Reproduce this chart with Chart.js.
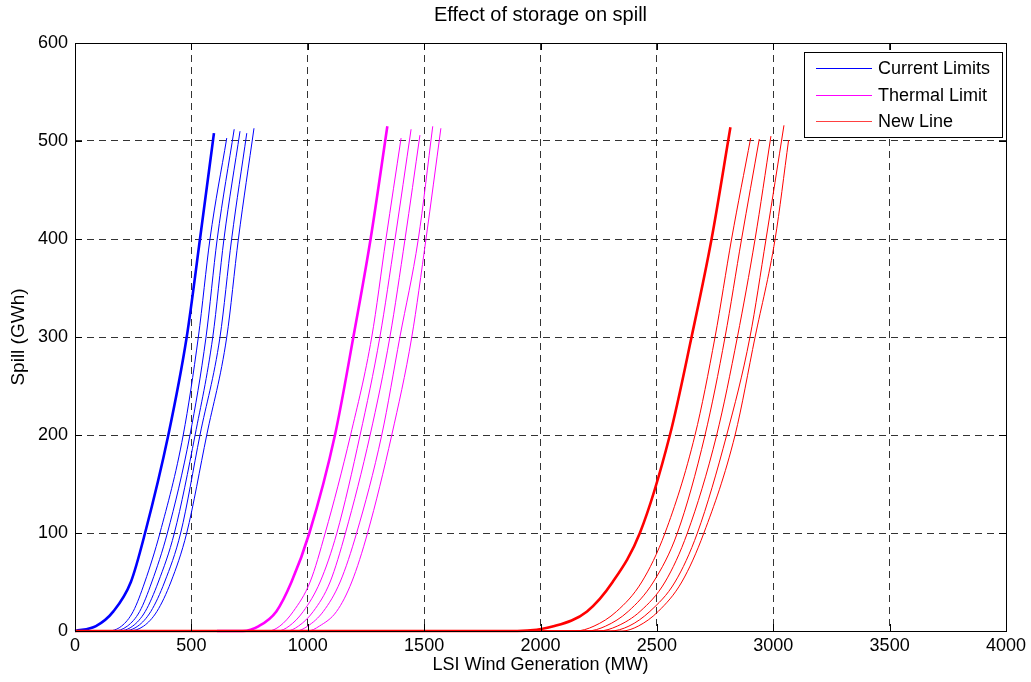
<!DOCTYPE html>
<html>
<head>
<meta charset="utf-8">
<title>Effect of storage on spill</title>
<script src="https://cdn.jsdelivr.net/npm/chart.js@4.4.1/dist/chart.umd.min.js"></script>
<style>
  html, body { margin: 0; padding: 0; background: #fff; }
  #chart { display: block; }
</style>
</head>
<body>
<canvas id="chart" width="1031" height="682"></canvas>
<script>
const spillLevels = [0, 5, 20, 50, 100, 200, 300, 400];

const xTicks = [0, 500, 1000, 1500, 2000, 2500, 3000, 3500, 4000];
const yTicks = [0, 100, 200, 300, 400, 500, 600];

// Current Limits (blue) - first row is the thick curve
const blueFlatStart = 0;
const blueGen = [
  [0,   90,  165, 240, 301, 401, 480, 537],
  [140, 200, 250, 300, 365, 465, 530, 580],
  [165, 225, 278, 330, 397, 494, 563, 611],
  [185, 248, 302, 358, 427, 516, 592, 640],
  [205, 270, 326, 385, 454, 537, 623, 673],
  [230, 295, 352, 412, 480, 566, 652, 702]
];
const blueTipGen = [597, 652, 684, 709, 738, 769];
const blueTipSpill = [508, 503, 512, 510, 508, 513];

// Thermal Limit (magenta)
const magentaFlatStart = 610;
const magentaGen = [
  [720,  790,  865,  930,  1007, 1117, 1196, 1270],
  [830,  880,  938,  1010, 1075, 1184, 1275, 1336],
  [870,  920,  981,  1053, 1125, 1225, 1310, 1375],
  [910,  960,  1024, 1096, 1162, 1268, 1353, 1418],
  [950,  1000, 1067, 1139, 1210, 1318, 1396, 1475],
  [1000, 1050, 1124, 1189, 1257, 1361, 1447, 1508]
];
const magentaTipGen = [1342, 1401, 1444, 1482, 1537, 1572];
const magentaTipSpill = [515, 503, 512, 506, 515, 513];

// New Line (red)
const redFlatStart = 0;
const redGen = [
  [1900, 2060, 2200, 2310, 2427, 2556, 2649, 2735],
  [2150, 2230, 2327, 2435, 2535, 2664, 2750, 2821],
  [2200, 2280, 2377, 2485, 2588, 2707, 2793, 2864],
  [2250, 2330, 2428, 2535, 2631, 2757, 2846, 2922],
  [2300, 2380, 2470, 2578, 2674, 2800, 2900, 2969],
  [2350, 2420, 2506, 2607, 2702, 2836, 2922, 3008]
];
const redTipGen = [2816, 2903, 2940, 2990, 3046, 3066];
const redTipSpill = [514, 503, 502, 505, 516, 501];

const legendLabels = ['Current Limits', 'Thermal Limit', 'New Line'];
const legendColors = ['#0000ff', '#ff00ff', '#ff4040'];

const FONT = "'Liberation Sans', Arial, Helvetica, sans-serif";

// Build one curve: flat run along zero, then the rising part, then its tip
function buildCurve(flatStart, gens, tipGen, tipSpill) {
  const pts = [];
  if (flatStart < gens[0]) pts.push({ x: flatStart, y: 0 });
  spillLevels.forEach((s, i) => pts.push({ x: gens[i], y: s }));
  pts.push({ x: tipGen, y: tipSpill });
  return pts;
}

function buildGroup(color, flatStart, gens, tipGens, tipSpills) {
  return gens.map((g, i) => ({
    label: i === 0 ? 'thick' : 'thin',
    data: buildCurve(flatStart, g, tipGens[i], tipSpills[i]),
    borderColor: color,
    borderWidth: i === 0 ? 2.6 : 1,
    showLine: true,
    pointRadius: 0,
    fill: false,
    cubicInterpolationMode: 'monotone',
    clip: 6
  }));
}

// first dataset is painted on top, so red goes first
const datasets = [
  ...buildGroup('#ff0000', redFlatStart, redGen, redTipGen, redTipSpill),
  ...buildGroup('#ff00ff', magentaFlatStart, magentaGen, magentaTipGen, magentaTipSpill),
  ...buildGroup('#0000ff', blueFlatStart, blueGen, blueTipGen, blueTipSpill)
];

// Frame, inward ticks, title and legend in the MATLAB look
const matlabFrame = {
  id: 'matlabFrame',
  beforeDraw(chart) {
    const ctx = chart.ctx;
    ctx.save();
    ctx.fillStyle = '#fff';
    ctx.fillRect(0, 0, chart.width, chart.height);
    ctx.restore();
  },
  afterDraw(chart) {
    const { ctx, chartArea: a, scales: { x, y } } = chart;
    ctx.save();
    ctx.strokeStyle = '#000';
    ctx.lineWidth = 1;
    ctx.setLineDash([]);
    ctx.strokeRect(a.left + 0.5, a.top + 0.5, a.right - a.left, a.bottom - a.top);

    ctx.beginPath();
    xTicks.forEach(v => {
      const px = Math.round(x.getPixelForValue(v)) + 0.5;
      ctx.moveTo(px, a.bottom); ctx.lineTo(px, a.bottom - 7);
      ctx.moveTo(px, a.top); ctx.lineTo(px, a.top + 7);
    });
    yTicks.forEach(v => {
      const py = Math.round(y.getPixelForValue(v)) + 0.5;
      ctx.moveTo(a.left, py); ctx.lineTo(a.left + 7, py);
      ctx.moveTo(a.right, py); ctx.lineTo(a.right - 7, py);
    });
    ctx.stroke();

    // title
    ctx.fillStyle = '#000';
    ctx.font = '20px ' + FONT;
    ctx.textAlign = 'center';
    ctx.textBaseline = 'middle';
    ctx.fillText('Effect of storage on spill', (a.left + a.right) / 2, 15);

    // legend box
    const bx = a.right - 202, by = a.top + 9, bw = 198, bh = 85;
    ctx.fillStyle = '#fff';
    ctx.fillRect(bx, by, bw, bh);
    ctx.strokeStyle = '#000';
    ctx.strokeRect(bx + 0.5, by + 0.5, bw, bh);
    ctx.font = '18px ' + FONT;
    ctx.textAlign = 'left';
    legendLabels.forEach((lab, i) => {
      const ly = Math.round(by + 16 + i * 26.5);
      ctx.fillStyle = legendColors[i];
      ctx.fillRect(bx + 12, ly, 56, 1);
      ctx.fillStyle = '#000';
      ctx.fillText(lab, bx + 74, ly + 1);
    });
    ctx.restore();
  }
};

new Chart(document.getElementById('chart'), {
  type: 'scatter',
  data: { datasets },
  plugins: [matlabFrame],
  options: {
    responsive: false,
    animation: false,
    devicePixelRatio: 1,
    layout: { padding: { top: 43, right: 25, left: 0, bottom: 0 } },
    plugins: {
      legend: { display: false },
      tooltip: { enabled: false },
      title: { display: false }
    },
    scales: {
      x: {
        type: 'linear',
        min: 0,
        max: 4000,
        afterFit(scale) { scale.height = 51; },
        afterBuildTicks(scale) { scale.ticks = xTicks.map(v => ({ value: v })); },
        ticks: { color: '#000', padding: 4, font: { family: FONT, size: 18 }, callback: v => String(v) },
        grid: { color: 'rgba(0,0,0,0.8)', drawTicks: false, lineWidth: 1 },
        border: { display: false, dash: [7, 5] },
        title: {
          display: true,
          text: 'LSI Wind Generation (MW)',
          color: '#000',
          font: { family: FONT, size: 18 },
          padding: { top: 0, bottom: 6 }
        }
      },
      y: {
        type: 'linear',
        min: 0,
        max: 600,
        afterFit(scale) { scale.width = 75; },
        afterBuildTicks(scale) { scale.ticks = yTicks.map(v => ({ value: v })); },
        ticks: { color: '#000', padding: 7, font: { family: FONT, size: 18 }, callback: v => String(v) },
        grid: { color: 'rgba(0,0,0,0.8)', drawTicks: false, lineWidth: 1 },
        border: { display: false, dash: [7, 5] },
        title: {
          display: true,
          text: 'Spill (GWh)',
          color: '#000',
          font: { family: FONT, size: 19 },
          padding: { top: 7, bottom: 0 }
        }
      }
    }
  }
});
</script>
</body>
</html>
